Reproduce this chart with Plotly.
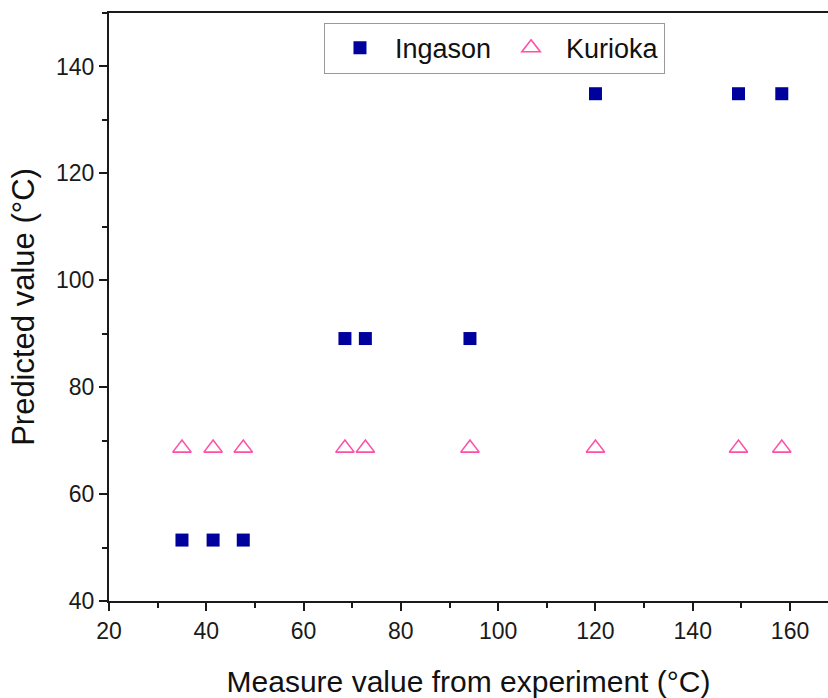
import plotly.graph_objects as go

measured = [35.0, 41.4, 47.6, 68.5, 72.7, 94.2, 120.0, 149.4, 158.3]
ingason = [51.4, 51.4, 51.4, 89.1, 89.1, 89.1, 134.9, 134.9, 134.9]
kurioka = [68.6, 68.6, 68.6, 68.6, 68.6, 68.6, 68.6, 68.6, 68.6]

FONT = "Liberation Sans, Arial, sans-serif"

fig = go.Figure()
fig.add_trace(go.Scatter(
    x=measured, y=ingason, mode="markers", name="Ingason",
    marker=dict(symbol="square", size=13, color="#00009C",
                line=dict(width=0))))
fig.add_trace(go.Scatter(
    x=measured, y=kurioka, mode="markers", name="Kurioka",
    marker=dict(symbol="triangle-up-open", size=16, color="#FF4FA7",
                line=dict(width=1.6, color="#FF4FA7"))))

axis_common = dict(
    showline=True, linecolor="#1a1a1a", linewidth=2,
    ticks="outside", ticklen=8, tickwidth=2, tickcolor="#1a1a1a",
    showgrid=False, zeroline=False,
    tickfont=dict(family=FONT, size=23, color="#1a1a1a"),
)

fig.update_layout(
    width=828, height=698,
    margin=dict(l=109, r=0, t=13, b=97),
    plot_bgcolor="white", paper_bgcolor="white",
    xaxis=dict(range=[20, 167.8], tickmode="linear", tick0=20, dtick=20,
               mirror=True,
               minor=dict(ticks="outside", ticklen=5, tickwidth=2,
                          tickcolor="#1a1a1a", dtick=10, tick0=20),
               title=dict(text="Measure value from experiment (°C)",
                          font=dict(family=FONT, size=30, color="#111"),
                          standoff=30),
               **axis_common),
    yaxis=dict(range=[40, 150], tickmode="linear", tick0=40, dtick=20,
               minor=dict(ticks="outside", ticklen=5, tickwidth=2,
                          tickcolor="#1a1a1a", dtick=10, tick0=40),
               title=dict(text="Predicted value (°C)",
                          font=dict(family=FONT, size=31, color="#111"),
                          standoff=12),
               **axis_common),
    legend=dict(orientation="h", x=0.299, y=0.9835, xanchor="left", yanchor="top",
                bordercolor="#999", borderwidth=1, bgcolor="white",
                font=dict(family=FONT, size=27, color="#111"),
                itemwidth=60),
    showlegend=True,
)

fig.write_html("out.html")
